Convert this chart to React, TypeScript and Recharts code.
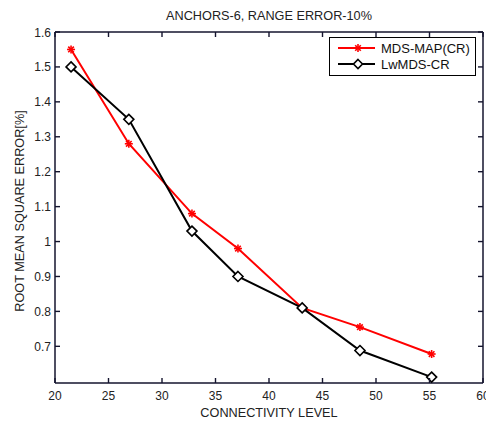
import React from 'react';
import { LineChart, Line, XAxis, YAxis, Legend, ReferenceLine } from 'recharts';

const connectivity = [21.5, 26.9, 32.8, 37.1, 43.1, 48.5, 55.2];
const mdsMapCR = [1.55, 1.28, 1.08, 0.98, 0.81, 0.755, 0.678];
const lwMdsCR = [1.5, 1.35, 1.03, 0.9, 0.81, 0.688, 0.612];

const xTicks = [20, 25, 30, 35, 40, 45, 50, 55, 60];
const yTicks = [0.7, 0.8, 0.9, 1, 1.1, 1.2, 1.3, 1.4, 1.5, 1.6];
const xDomain = [20, 60];
const yDomain = [0.595, 1.6];

const data = connectivity.map((x, i) => ({ x, mds: mdsMapCR[i], lw: lwMdsCR[i] }));

const FONT = '"Liberation Sans", Arial, Helvetica, sans-serif';
const INK = '#14142e';
const W = 486;
const H = 421;
const M = { top: 32, right: 3, bottom: 0, left: 0 };

// MATLAB-style inward ticks, mirrored onto the top / right edges of the box
const BottomTick = ({ x, y, payload }: any) => (
    <g>
        <path d={`M${x},${y}V${y - 5}`} stroke={INK} strokeWidth={1.4} fill="none" />
        <path d={`M${x},${M.top}V${M.top + 5}`} stroke={INK} strokeWidth={1.4} fill="none" />
        <text x={x} y={y + 16.5} textAnchor="middle" fontSize={12} fontFamily={FONT} fill="#222">{payload.value}</text>
    </g>
);
const LeftTick = ({ x, y, payload }: any) => (
    <g>
        <path d={`M${x},${y}H${x + 5}`} stroke={INK} strokeWidth={1.4} fill="none" />
        <path d={`M${W - M.right},${y}H${W - M.right - 5}`} stroke={INK} strokeWidth={1.4} fill="none" />
        <text x={x - 4} y={y + 4.5} textAnchor="end" fontSize={12} fontFamily={FONT} fill="#222">{payload.value}</text>
    </g>
);

const Star = ({ cx, cy, size = 4 }: any) => (
    <g stroke="#ff0000" strokeWidth={1.6}>
        <line x1={cx - size} y1={cy} x2={cx + size} y2={cy} />
        <line x1={cx} y1={cy - size} x2={cx} y2={cy + size} />
        <line x1={cx - size * 0.7} y1={cy - size * 0.7} x2={cx + size * 0.7} y2={cy + size * 0.7} />
        <line x1={cx - size * 0.7} y1={cy + size * 0.7} x2={cx + size * 0.7} y2={cy - size * 0.7} />
    </g>
);
const Diamond = ({ cx, cy, size = 5 }: any) => (
    <path d={`M${cx},${cy - size}L${cx + size},${cy}L${cx},${cy + size}L${cx - size},${cy}Z`}
        fill="#fff" stroke="#000" strokeWidth={1.6} />
);

const LegendBox = () => (
    <svg width={147} height={39} style={{ display: 'block' }}>
        <rect x={0.5} y={0.5} width={146} height={38} fill="#fff" stroke="#000" />
        <line x1={9} y1={11} x2={46} y2={11} stroke="#ff0000" strokeWidth={2} />
        <Star cx={29} cy={11} />
        <text x={52} y={15.5} fontSize={13} fontFamily={FONT} fill="#111">MDS-MAP(CR)</text>
        <line x1={9} y1={27} x2={46} y2={27} stroke="#000" strokeWidth={2} />
        <Diamond cx={29} cy={27} size={4.5} />
        <text x={52} y={31.5} fontSize={13} fontFamily={FONT} fill="#111">LwMDS-CR</text>
    </svg>
);

export default function App() {
    return (
        <div style={{ position: 'absolute', left: 0, top: 0, width: W, height: H, background: '#fff' }}>
            <LineChart width={W} height={H} data={data} margin={M}>
                <text x={269} y={19.5} textAnchor="middle" fontSize={12.7} fontFamily={FONT} fill="#222">
                    ANCHORS-6, RANGE ERROR-10%
                </text>
                <text x={24} y={211} textAnchor="middle" fontSize={12.7} fontFamily={FONT} fill="#222"
                    transform="rotate(-90 24 211)">
                    ROOT MEAN SQUARE ERROR[%]
                </text>
                <text x={269} y={416.5} textAnchor="middle" fontSize={12.7} fontFamily={FONT} fill="#222">
                    CONNECTIVITY LEVEL
                </text>
                <XAxis dataKey="x" type="number" domain={xDomain} ticks={xTicks} interval={0}
                    height={38} tickSize={0} tickMargin={0} tick={<BottomTick />}
                    axisLine={{ stroke: INK, strokeWidth: 1.5 }} />
                <YAxis type="number" domain={yDomain} ticks={yTicks} interval={0} width={55}
                    tickSize={0} tickMargin={0} tick={<LeftTick />}
                    axisLine={{ stroke: INK, strokeWidth: 1.5 }} />
                <ReferenceLine y={yDomain[1]} stroke={INK} strokeWidth={1.5} ifOverflow="visible" />
                <ReferenceLine x={xDomain[1]} stroke={INK} strokeWidth={1.5} ifOverflow="visible" />
                <Legend layout="vertical" align="center" verticalAlign="middle" content={<LegendBox />}
                    wrapperStyle={{ left: 329, top: 37, width: 147 }} />
                <Line type="linear" dataKey="mds" stroke="#ff0000" strokeWidth={2} isAnimationActive={false}
                    dot={(p: any) => <Star key={`s${p.index}`} cx={p.cx} cy={p.cy} />} activeDot={false} />
                <Line type="linear" dataKey="lw" stroke="#000" strokeWidth={2} isAnimationActive={false}
                    dot={(p: any) => <Diamond key={`d${p.index}`} cx={p.cx} cy={p.cy} />} activeDot={false} />
            </LineChart>
        </div>
    );
}
